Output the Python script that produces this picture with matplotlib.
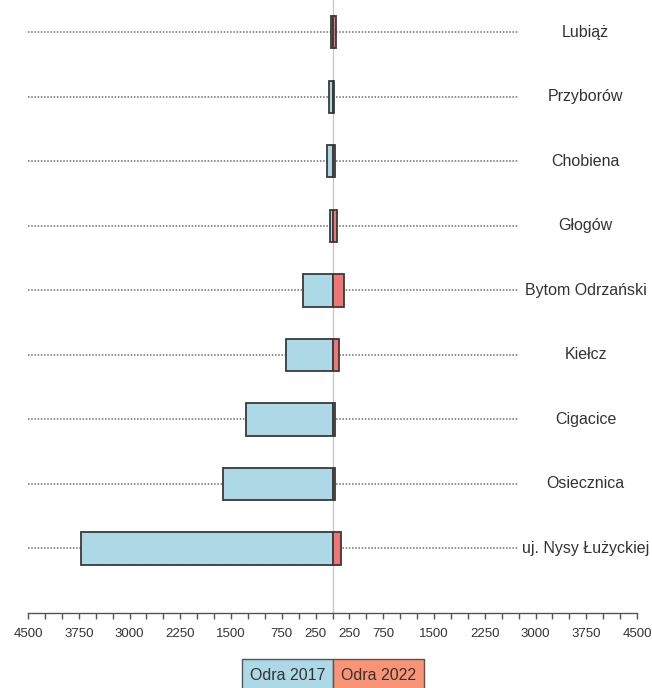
import numpy as np
import matplotlib.pyplot as plt
from matplotlib.patches import Rectangle

# stations, listed top to bottom
sites = ["Lubiąż", "Przyborów", "Chobiena", "Głogów", "Bytom Odrzański",
         "Kiełcz", "Cigacice", "Osiecznica", "uj. Nysy Łużyckiej"]
odra_2017 = [22, 52, 77, 37, 430, 690, 1280, 1615, 3710]
odra_2022 = [52, 27, 37, 62, 170, 100, 35, 35, 125]

tick_vals = np.arange(-4500, 4501, 250)
labelled = [4500, 3750, 3000, 2250, 1500, 750, 250]

BLUE = "#add8e6"
RED = "#f07676"
SALMON = "#fa9474"
EDGE = "#3a3a3a"
TXT = "#333333"

plt.rcParams["font.family"] = ["Liberation Sans", "DejaVu Sans"]

fig = plt.figure(figsize=(6.52, 6.88), dpi=100)
ax = fig.add_axes([28 / 652, 75 / 688, 609 / 652, 613 / 688])

n = len(sites)
y = np.arange(n, 0, -1)

# dotted guide lines and centre line
for yi in y:
    ax.plot([-4500, 2750], [yi, yi], color="#6e6e6e", lw=1.1,
            linestyle=(0, (1, 1.1)), zorder=1)
ax.axvline(0, color="#c4c4c4", lw=0.9, zorder=1)

ax.barh(y, -np.array(odra_2017), height=0.5, color=BLUE, edgecolor=EDGE,
        linewidth=1.3, zorder=3)
ax.barh(y, odra_2022, height=0.5, color=RED, edgecolor=EDGE,
        linewidth=1.3, zorder=3)

for yi, name in zip(y, sites):
    ax.text(3740, yi, name, ha="center", va="center", fontsize=11.5,
            color=TXT)

ax.set_xlim(-4500, 4500)
ax.set_ylim(0, n + 0.5)

for s in ["top", "right", "left"]:
    ax.spines[s].set_visible(False)
ax.spines["bottom"].set_color("#555555")
ax.spines["bottom"].set_linewidth(1.0)
ax.set_yticks([])
ax.set_xticks(tick_vals)
ax.set_xticklabels([str(abs(v)) if abs(v) in labelled else "" for v in tick_vals],
                   fontsize=9.5, color=TXT)
ax.tick_params(axis="x", direction="out", length=4, width=1.0,
               color="#555555", pad=7)

# legend built as two boxes
for x0, col, lab in [(242, BLUE, "Odra 2017"), (333, SALMON, "Odra 2022")]:
    fig.patches.append(Rectangle((x0 / 652, -0.01), 91 / 652, 0.01 + 29 / 688,
                                 transform=fig.transFigure, facecolor=col,
                                 edgecolor="#555555", linewidth=1.0))
    fig.text((x0 + 45.5) / 652, 12 / 688, lab, ha="center", va="center",
             fontsize=11.5, color=TXT)

fig.savefig("out.png", dpi=100)
